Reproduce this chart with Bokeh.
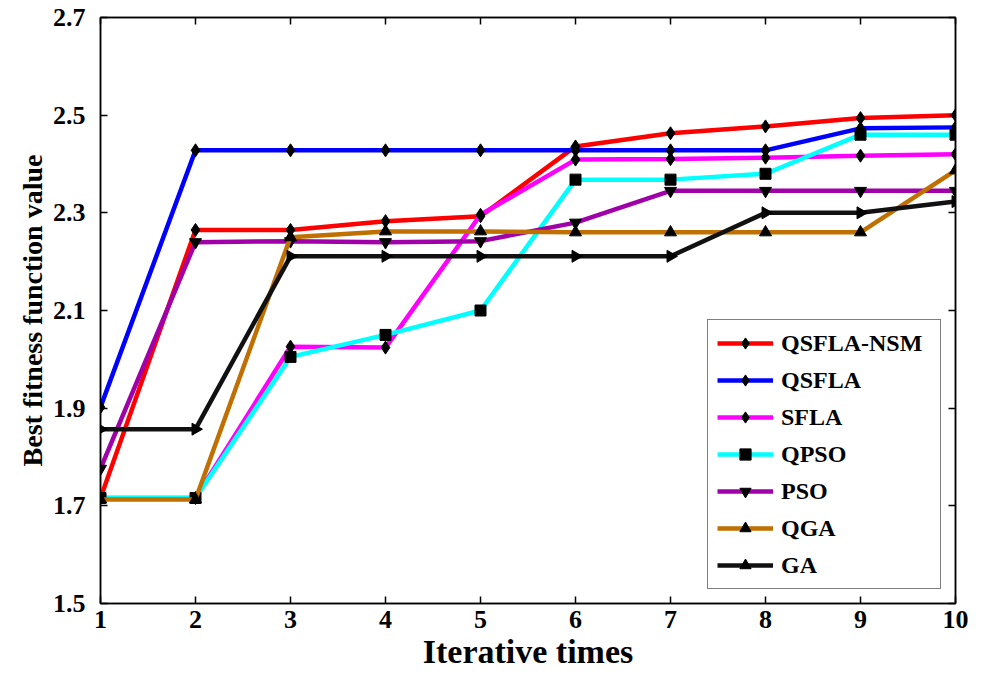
import math
from bokeh.plotting import figure
from bokeh.models import LinearAxis, FixedTicker, Legend, LegendItem, Range1d, ColumnDataSource
from bokeh.embed import file_html
from bokeh.resources import INLINE

iterations = [1, 2, 3, 4, 5, 6, 7, 8, 9, 10]
qsfla_nsm = [1.716, 2.265, 2.265, 2.283, 2.293, 2.436, 2.463, 2.477, 2.494, 2.500]
qsfla     = [1.902, 2.428, 2.428, 2.428, 2.428, 2.428, 2.428, 2.428, 2.473, 2.475]
sfla      = [1.716, 1.716, 2.026, 2.024, 2.296, 2.409, 2.410, 2.413, 2.417, 2.420]
qpso      = [1.716, 1.716, 2.005, 2.050, 2.100, 2.368, 2.368, 2.380, 2.460, 2.460]
pso       = [1.776, 2.240, 2.242, 2.240, 2.242, 2.280, 2.345, 2.345, 2.345, 2.345]
qga       = [1.713, 1.713, 2.250, 2.262, 2.262, 2.260, 2.260, 2.260, 2.260, 2.387]
ga        = [1.857, 1.857, 2.211, 2.211, 2.211, 2.211, 2.211, 2.300, 2.300, 2.323]

names = ["QSFLA-NSM", "QSFLA", "SFLA", "QPSO", "PSO", "QGA", "GA"]
series = [qsfla_nsm, qsfla, sfla, qpso, pso, qga, ga]
colors = ["#FF0000", "#0000FF", "#FF00FF", "#00FFFF", "#A000A8", "#BF7000", "#111111"]
markers = ["diamond", "diamond", "diamond", "square", "inverted_triangle", "triangle", "triangle"]
angles = [0, 0, 0, 0, 0, 0, -math.pi / 2]
msizes = [13, 13, 13, 11, 12, 12, 12]

x_ticks = [1, 2, 3, 4, 5, 6, 7, 8, 9, 10]
y_ticks = [1.5, 1.7, 1.9, 2.1, 2.3, 2.5, 2.7]

FONT = "Liberation Serif"

p = figure(width=981, height=673, output_backend="svg", toolbar_location=None,
           x_range=Range1d(1, 10), y_range=Range1d(1.5, 2.7),
           min_border_left=100, min_border_right=26, min_border_top=17, min_border_bottom=70)
p.grid.visible = False
p.outline_line_color = "black"
p.outline_line_width = 1.5
p.background_fill_color = "white"
p.border_fill_color = "white"

for ax in [p.xaxis[0], p.yaxis[0]]:
    ax.major_tick_in = 7
    ax.major_tick_out = 0
    ax.minor_tick_in = 0
    ax.minor_tick_out = 0
    ax.axis_line_color = "black"
    ax.axis_line_width = 1.5
    ax.major_tick_line_width = 1.5
    ax.major_label_text_font = FONT
    ax.major_label_text_font_style = "bold"
    ax.major_label_text_font_size = "26px"
    ax.major_label_text_color = "black"
    ax.axis_label_text_font = FONT
    ax.axis_label_text_font_style = "bold"
    ax.axis_label_text_color = "black"

p.xaxis[0].axis_label_text_font_size = "34px"
p.yaxis[0].axis_label_text_font_size = "28px"
p.xaxis[0].ticker = FixedTicker(ticks=x_ticks)
p.yaxis[0].ticker = FixedTicker(ticks=y_ticks)
p.xaxis[0].axis_label = "Iterative times"
p.yaxis[0].axis_label = "Best fitness function value"
p.xaxis[0].major_label_standoff = 7
p.xaxis[0].axis_label_standoff = 2
p.yaxis[0].major_label_standoff = 15
p.yaxis[0].axis_label_standoff = 2

# mirrored ticks on top and right
top_ax = LinearAxis(ticker=FixedTicker(ticks=x_ticks), major_tick_in=7, major_tick_out=0,
                    minor_tick_in=0, minor_tick_out=0, major_label_text_font_size="1px",
                    major_label_text_color=None, major_label_standoff=0, axis_line_width=1.5,
                    major_tick_line_width=1.5)
right_ax = LinearAxis(ticker=FixedTicker(ticks=y_ticks), major_tick_in=7, major_tick_out=0,
                      minor_tick_in=0, minor_tick_out=0, major_label_text_font_size="1px",
                      major_label_text_color=None, major_label_standoff=0, axis_line_width=1.5,
                      major_tick_line_width=1.5)
p.add_layout(top_ax, "above")
p.add_layout(right_ax, "right")

items = []
for name, ys, c, m, a, s in zip(names, series, colors, markers, angles, msizes):
    src = ColumnDataSource(dict(x=iterations, y=ys, ang=[a] * len(ys)))
    r1 = p.line("x", "y", source=src, line_color=c, line_width=4.5)
    r2 = p.scatter("x", "y", source=src, marker=m, size=s, angle="ang",
                   fill_color="black", line_color="black")
    items.append(LegendItem(label=name, renderers=[r1, r2], index=0))

legend = Legend(items=items, location="bottom_right")
legend.label_text_font = FONT
legend.label_text_font_style = "bold"
legend.label_text_font_size = "24px"
legend.label_text_color = "black"
legend.border_line_color = "black"
legend.border_line_width = 1.5
legend.glyph_width = 56
legend.glyph_height = 28
legend.label_height = 28
legend.label_width = 150
legend.spacing = 9
legend.padding = 9
legend.margin = 14
legend.label_standoff = 8
p.add_layout(legend, "center")

open("out.html", "w").write(file_html(p, INLINE))
